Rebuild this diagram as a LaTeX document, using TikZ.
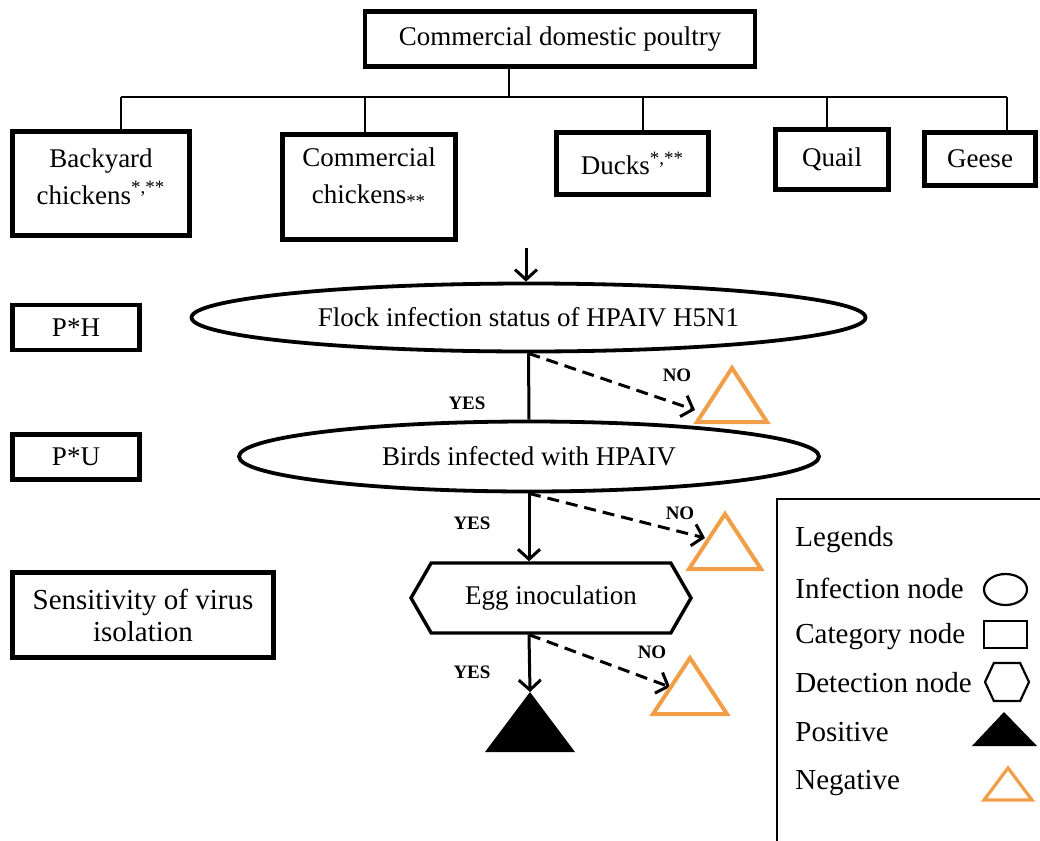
\documentclass[tikz,border=0pt]{standalone}
\usepackage{fontspec}
\setmainfont{Liberation Serif}
\usetikzlibrary{arrows.meta,positioning,shapes.geometric,shapes.symbols}
\definecolor{negorange}{RGB}{242,158,72}

\tikzset{
  catbox/.style={draw,line width=2.2pt,inner sep=2pt},
  infnode/.style={draw,ellipse,line width=1.9pt,inner sep=0pt},
  detnode/.style={draw,signal,signal to=west and east,signal pointer angle=120,line width=1.7pt,inner sep=0pt},
  link/.style={line width=1pt},
  flow/.style={line width=1.5pt,-{Straight Barb[length=5pt,width=11pt]}},
  noflow/.style={flow,dash pattern=on 6pt off 3.5pt},
  answer/.style={font=\fontsize{9.5}{11}\selectfont\bfseries},
  negtri/.style={draw=negorange,line width=2pt,line join=miter},
  keytext/.style={anchor=west,inner sep=0pt,font=\fontsize{14.5}{17}\selectfont},
}

\begin{document}
\begin{tikzpicture}[x=0.5pt,y=-0.5pt,font=\fontsize{13.5}{18.5}\selectfont]
\clip (0,0) rectangle (1040,841);

% poultry categories
\node[catbox,minimum width=195pt,minimum height=27.5pt] (poultry) at (560,39) {Commercial domestic poultry};
\coordinate (hub) at (509,97);
\node[catbox,minimum width=88.5pt,minimum height=52pt] (back) at (101,183.5) {};
\node[align=center] (backtxt) at ([yshift=3.5pt]back.center) {Backyard\\chickens\textsuperscript{*,**}};
\node[catbox,minimum width=86.5pt,minimum height=52.5pt] (chick) at (369,187) {};
\node[align=center] (chicktxt) at ([yshift=4.75pt]chick.center) {Commercial\\chickens\textsubscript{**}};
\node[catbox,minimum width=76pt,minimum height=31pt] (ducks) at (632.5,163.5) {Ducks\textsuperscript{*,**}};
\node[catbox,minimum width=56.5pt,minimum height=30pt] (quail) at (832,159.5) {Quail};
\node[catbox,minimum width=55.5pt,minimum height=26.5pt] (geese) at (980,159) {Geese};

\draw[link] (poultry.south -| hub) -- (hub);
\draw[link] ([xshift=10pt]back.north |- hub) -- ([xshift=13.5pt]geese.north |- hub);
\foreach \n/\dx in {back/10pt,chick/-2pt,ducks/5pt,quail/-2.5pt,geese/13.5pt}
  \draw[link] ([xshift=\dx]\n.north) -- ([xshift=\dx]\n.north |- hub);

% probabilities on the left
\node[catbox,minimum width=63.5pt,minimum height=22.5pt] (ph) at (76,327.5) {P*H};
\node[catbox,minimum width=63.5pt,minimum height=22.5pt] (pu) at (76,457) {P*U};
\node[catbox,minimum width=130.5pt,minimum height=42.5pt,align=center,font=\fontsize{14.5}{16}\selectfont] (sens) at (143,615) {Sensitivity of virus\\isolation};

% scenario tree
\coordinate (feed) at (526,248);
\node[infnode,minimum width=337pt,minimum height=34pt] (flock) at (528.5,317.5) {Flock infection status of HPAIV H5N1};
\node[infnode,minimum width=290pt,minimum height=35pt] (birds) at (529,456.5) {Birds infected with HPAIV};
\node[detnode,minimum width=140pt,minimum height=35pt] (egg) at (551,598) {Egg inoculation};

\coordinate (pos) at (530,692);
\coordinate (neg1) at (732,368);
\coordinate (neg2) at (725,514);
\coordinate (neg3) at (690,658);
\coordinate (no1) at (695,410);
\coordinate (no2) at (705,538);
\coordinate (no3) at (670,687);

\draw[flow] (feed) -- (feed |- flock.north);
\draw[line width=1.5pt] (flock.south) -- (birds.north);
\draw[noflow] (flock.south) -- (no1);
\draw[flow] (birds.south) -- (birds.south |- egg.north);
\draw[noflow] (birds.south) -- (no2);
\draw[flow] (egg.south -| birds.south) -- (pos);
\draw[noflow] (egg.south -| birds.south) -- (no3);

\node[answer] (yes1) at (467,403) {YES};
\node[answer] (nolab1) at (677,375) {NO};
\node[answer] (yes2) at (472,523) {YES};
\node[answer] (nolab2) at (680,513) {NO};
\node[answer] (yes3) at (472,672) {YES};
\node[answer] (nolab3) at (652,652) {NO};

% outcomes
\fill (pos) -- ++(45,60) -- ++(-90,0) -- cycle;
\draw[negtri] (neg1) -- ++(35,54) -- ++(-70,0) -- cycle;
\draw[negtri] (neg2) -- ++(36,55) -- ++(-72,0) -- cycle;
\draw[negtri] (neg3) -- ++(37,56) -- ++(-74,0) -- cycle;

% legend
\node[draw,line width=0.8pt,anchor=north west,minimum width=150pt,minimum height=190pt] (legend) at (776,498) {};
\node[keytext] (legtitle) at (795,540) {Legends};
\node[keytext] (leginf) at (795,588) {Infection node};
\node[keytext] (legcat) at (795,637) {Category node};
\node[keytext] (legdet) at (795,683) {Detection node};
\node[keytext] (legpos) at (795,732) {Positive};
\node[keytext] (legneg) at (795,783) {Negative};

\node[infnode,line width=1.1pt,minimum width=21.5pt,minimum height=15.5pt] (keyinf) at (1005.5,589.5) {};
\node[draw,line width=1.1pt,minimum width=21.5pt,minimum height=13.5pt] (keycat) at (1005.5,634.5) {};
\node[detnode,line width=1.1pt,minimum width=22pt,minimum height=19pt,signal pointer angle=130] (keydet) at (1007,682) {};
\coordinate (keypos) at (1004,712);
\coordinate (keyneg) at (1008,768);
\fill (keypos) -- ++(33,34) -- ++(-65,0) -- cycle;
\draw[negtri,line width=1.6pt] (keyneg) -- ++(24,32) -- ++(-48,0) -- cycle;
\end{tikzpicture}
\end{document}
